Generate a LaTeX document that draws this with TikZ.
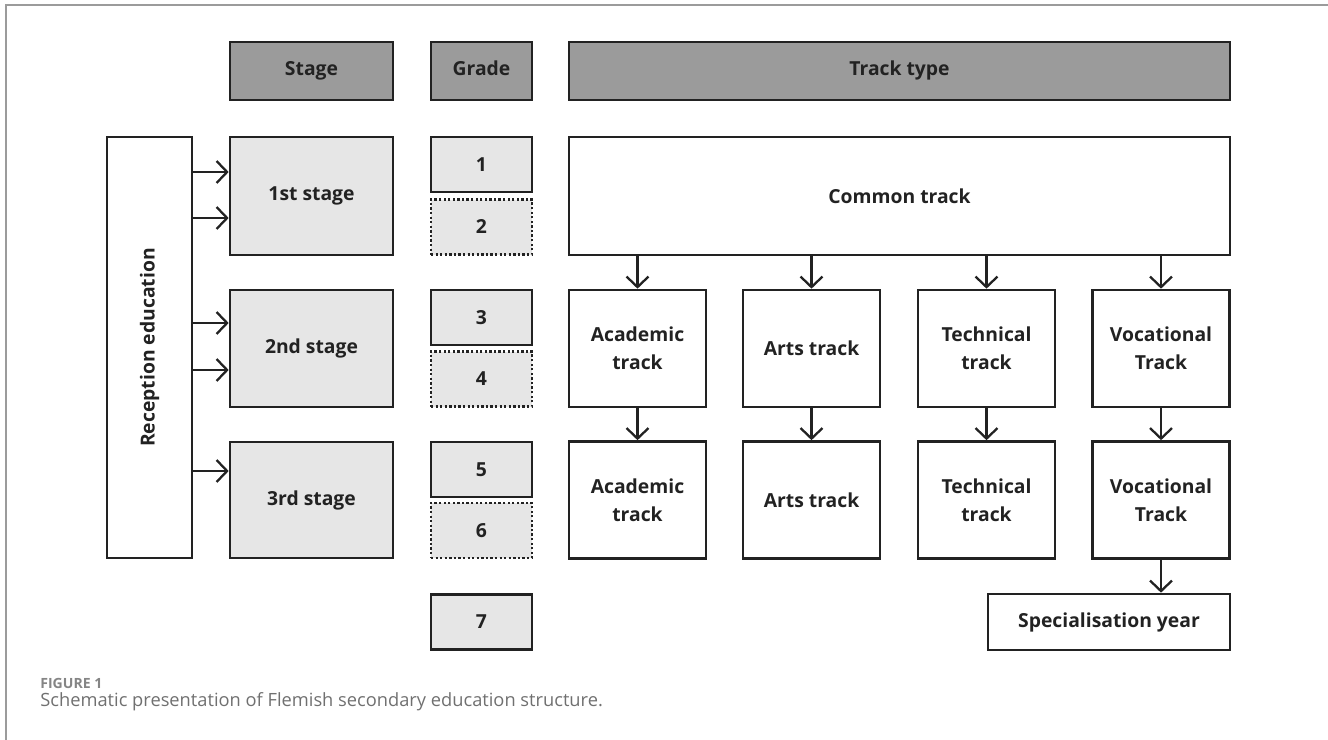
\documentclass[tikz,border=0pt]{standalone}
\usepackage{fontspec}
\setmainfont{Open Sans}
\usetikzlibrary{arrows.meta,calc}

\definecolor{headfill}{HTML}{9B9B9B}
\definecolor{stagefill}{HTML}{E6E6E6}
\definecolor{ink}{HTML}{222222}
\definecolor{capgray}{HTML}{707070}

\begin{document}
\begin{tikzpicture}[x=0.02cm,y=-0.02cm,>={Straight Barb[length=6pt,width=12.5pt]},
		sz/.style 2 args={minimum width=#1*0.02cm,minimum height=#2*0.02cm},
		boxfont/.style={font=\bfseries\fontsize{11}{16}\selectfont},
		box/.style={draw=ink,line width=1.5pt,inner sep=0pt,align=center,text=ink,boxfont},
		oneline/.style={text height=8pt,text depth=2.6pt},
		headbox/.style={box,oneline,fill=headfill},
		stagebox/.style={box,fill=stagefill},
		gradebox/.style={stagebox,sz={101}{55}},
		extrayear/.style={gradebox,dash pattern=on 1.3pt off 1.3pt,line width=1.6pt},
		trackbox/.style={box,sz={137}{117}},
		arr/.style={->,draw=ink,line width=1.3pt}]
	\useasboundingbox (0,0) rectangle (1328,740);
	% frame lines, top and left only
	\draw[headfill,line width=1pt] (6,740) -- (6,5) -- (1328,5);

	% column headers
	\node[headbox,sz={163}{58}] (hstage) at (311.5,71) {Stage};
	\node[headbox,sz={101}{58}] (hgrade) at (481.5,71) {Grade};
	\node[headbox,sz={661}{58}] (htrack) at (899.5,71) {Track type};

	% reception education
	\node[box,sz={85}{421},label={[rotate=90,text=ink,boxfont]center:Reception education}] (recep) at (149.5,347.5) {};

	% stages
	\node[stagebox,sz={163}{118}] (s1) at (311.5,196) {1st stage};
	\node[stagebox,sz={163}{117}] (s2) at (311.5,348.5) {2nd stage};
	\node[stagebox,sz={163}{116}] (s3) at (311.5,500) {3rd stage};

	% grades
	\node[gradebox] (g1) at (481.5,164.5) {1};
	\node[extrayear] (g2) at (481.5,227) {2};
	\node[gradebox] (g3) at (481.5,317.5) {3};
	\node[extrayear] (g4) at (481.5,379) {4};
	\node[gradebox] (g5) at (481.5,469.5) {5};
	\node[extrayear] (g6) at (481.5,530.5) {6};
	\node[gradebox] (g7) at (481.5,622) {7};

	% tracks
	\node[box,sz={661}{118}] (common) at (899.5,196) {Common track};
	\node[trackbox] (aca1) at (637.5,348.5) {Academic\\track};
	\node[trackbox] (art1) at (811.5,348.5) {Arts track};
	\node[trackbox] (tec1) at (986.5,348.5) {Technical\\track};
	\node[trackbox] (voc1) at (1161,348.5) {Vocational\\Track};
	\node[trackbox] (aca2) at (637.5,500) {Academic\\track};
	\node[trackbox] (art2) at (811.5,500) {Arts track};
	\node[trackbox] (tec2) at (986.5,500) {Technical\\track};
	\node[trackbox] (voc2) at (1161,500) {Vocational\\Track};
	\node[box,sz={242}{56}] (spec) at (1109,622) {Specialisation year};

	% entries from reception education
	\foreach \s/\dy in {s1/-24,s1/22,s2/-25.5,s2/21.5,s3/-29}{
		\path ($(\s.west)+(0,\dy)$) coordinate (tip);
		\draw[arr] (recep.east |- tip) -- (tip);
	}

	% track flow
	\foreach \t in {aca,art,tec,voc}{
		\draw[arr] (\t1.north |- common.south) -- (\t1.north);
		\draw[arr] (\t1) -- (\t2);
	}
	\draw[arr] (voc2.south) -- (voc2.south |- spec.north);

	% caption
	\node[anchor=base west,inner sep=0pt,text=capgray!85,font=\fontsize{8}{9}\selectfont\bfseries] (figno) at (40,688) {FIGURE 1};
	\node[anchor=base west,inner sep=0pt,text=capgray,font=\fontsize{10.4}{12}\selectfont] (caption) at (40,706) {Schematic presentation of Flemish secondary education structure.};
\end{tikzpicture}
\end{document}
